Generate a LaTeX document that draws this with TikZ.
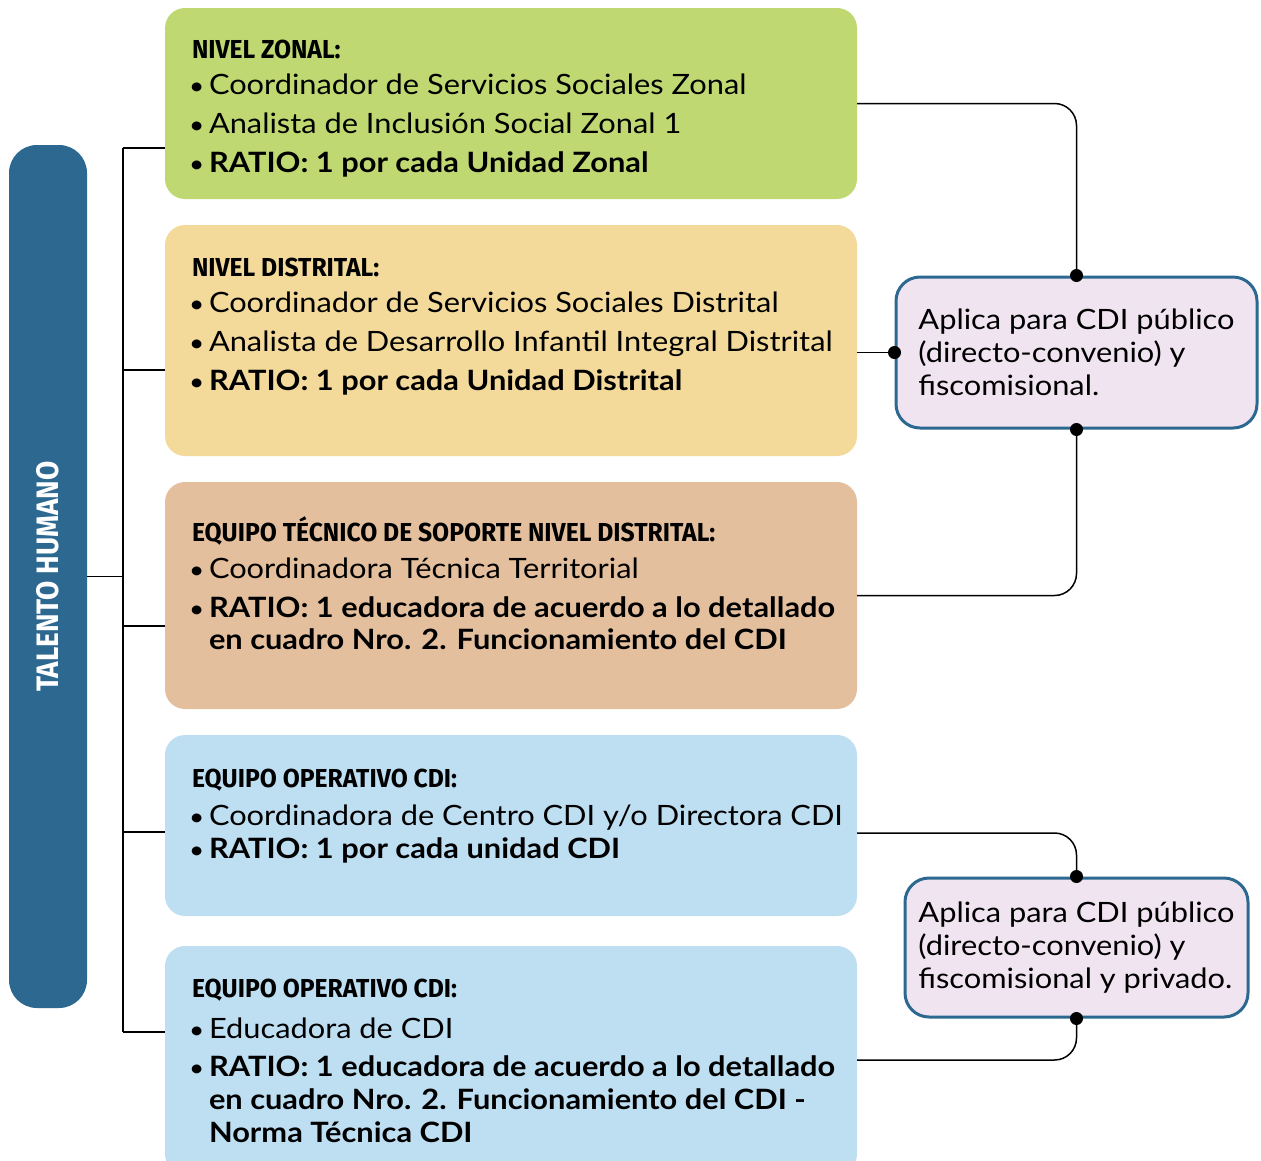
\documentclass[tikz,border=0pt]{standalone}
\usepackage{fontspec}
\setmainfont[FakeStretch=1.1]{Lato}
\newfontfamily\headfont[FakeStretch=0.95]{Fira Sans}
\newfontfamily\barfont[FakeStretch=0.9]{Fira Sans}
\usetikzlibrary{positioning,calc}

\definecolor{zonalgreen}{HTML}{BFD872}
\definecolor{distritalyellow}{HTML}{F3DA9B}
\definecolor{tecnicotan}{HTML}{E3BF9D}
\definecolor{opblue}{HTML}{BEDEF2}
\definecolor{notelilac}{HTML}{F0E4F0}
\definecolor{barblue}{HTML}{2C6890}

\newcommand{\hd}[1]{{\headfont\bfseries\fontsize{26}{30}\selectfont #1}}
\newcommand{\bul}{\makebox[17pt][l]{\hspace*{-3pt}\scalebox{0.85}{\textbullet}}}
\newcommand{\hang}{\hspace*{17pt}}

\begin{document}
\begin{tikzpicture}[x=1pt,y=-1pt
		,box/.style={rounded corners=20, minimum width=692, inner sep=0}
		,conn/.style={line width=1.5, rounded corners=22}
		,note/.style={draw=barblue, line width=3, fill=notelilac, rounded corners=24, align=left, font=\fontsize{28}{33}\selectfont}
		,txt/.style={anchor=north west, align=left, inner sep=0, font=\fontsize{28}{32}\selectfont}
	]
		\clip (0,0) rectangle (1261,1160);

		% side bar
		\node [fill=barblue, rounded corners=28, minimum width=78, minimum height=863, inner sep=0] (talento) at (48,576.5) {};
		\node [rotate=90, text=white, font=\barfont\bfseries\fontsize{31}{34}\selectfont] (talentotxt) at (talento.center) {TALENTO HUMANO};

		% level boxes
		\node [box, fill=zonalgreen, minimum height=191] (zonal) at (511,103.5) {};
		\node [box, fill=distritalyellow, minimum height=231] (distrital) at (511,340.5) {};
		\node [box, fill=tecnicotan, minimum height=227] (tecnico) at (511,595.5) {};
		\node [box, fill=opblue, minimum height=181] (opcoord) at (511,825.5) {};
		\node [box, fill=opblue, minimum height=228] (opeduc) at (511,1060) {};

		\node [txt] (zonaltxt) at ($(zonal.north west)+(27,32)$) {\hd{NIVEL ZONAL:}\\[4pt]
			\bul Coordinador de Servicios Sociales Zonal\\[7pt]
			\bul Analista de Inclusión Social Zonal 1\\[7pt]
			\bul\textbf{RATIO: 1 por cada Unidad Zonal}};
		\node [txt] (distritaltxt) at ($(distrital.north west)+(27,33)$) {\hd{NIVEL DISTRITAL:}\\[4pt]
			\bul Coordinador de Servicios Sociales Distrital\\[7pt]
			\bul Analista de Desarrollo Infantil Integral Distrital\\[7pt]
			\bul\textbf{RATIO: 1 por cada Unidad Distrital}};
		\node [txt] (tecnicotxt) at ($(tecnico.north west)+(27,35)$) {\hd{EQUIPO TÉCNICO DE SOPORTE NIVEL DISTRITAL:}\\[5pt]
			\bul Coordinadora Técnica Territorial\\[7pt]
			\bul\textbf{RATIO: 1 educadora de acuerdo a lo detallado}\\
			\hang\textbf{en cuadro Nro. 2. Funcionamiento del CDI}};
		\node [txt] (opcoordtxt) at ($(opcoord.north west)+(27,34)$) {\hd{EQUIPO OPERATIVO CDI:}\\[6pt]
			\bul Coordinadora de Centro CDI y/o Directora CDI\\[1pt]
			\bul\textbf{RATIO: 1 por cada unidad CDI}};
		\node [txt] (opeductxt) at ($(opeduc.north west)+(27,33)$) {\hd{EQUIPO OPERATIVO CDI:}\\[9pt]
			\bul Educadora de CDI\\[6pt]
			\bul\textbf{RATIO: 1 educadora de acuerdo a lo detallado}\\[1pt]
			\hang\textbf{en cuadro Nro. 2. Funcionamiento del CDI -}\\[1pt]
			\hang\textbf{Norma Técnica CDI}};

		% notes
		\node [note, minimum width=361, minimum height=151] (apl1) at (1076.5,352.5) {Aplica para CDI público\\(directo-convenio) y\\fiscomisional.};
		\node [note, minimum width=343, minimum height=139] (apl2) at (1076.5,947.5) {Aplica para CDI público\\(directo-convenio) y\\fiscomisional y privado.};

		% left spine
		\draw [conn] (talento.east) -- ++(36,0);
		\draw [conn] (123,148) -- (123,1032);
		\foreach \b/\y in {zonal/148, distrital/370, tecnico/626, opcoord/832, opeduc/1032} {
			\coordinate (s\b) at (123,\y);
			\draw [conn] (s\b) -- (s\b -| \b.west);
		}

		% right connectors
		\draw [conn] (zonal.east) -| (apl1.north);
		\draw [conn] (distrital.east |- apl1.west) -- (apl1.west);
		\draw [conn] (tecnico.east) -| (apl1.south);
		\draw [conn] ($(opcoord.east)+(0,7.5)$) -| (apl2.north);
		\draw [conn] (opeduc.east) -| (apl2.south);
		\foreach \a in {apl1.north, apl1.west, apl1.south, apl2.north, apl2.south}
			\fill (\a) circle (6.5pt);
	\end{tikzpicture}
\end{document}
